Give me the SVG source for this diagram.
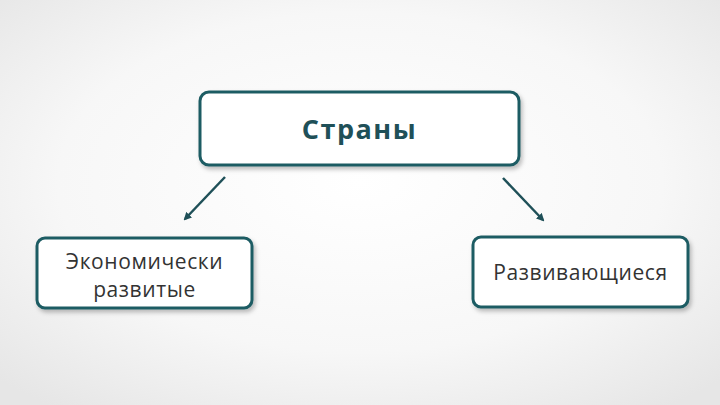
<svg xmlns="http://www.w3.org/2000/svg" width="720" height="405" viewBox="0 0 720 405">
<defs>
<radialGradient id="bg" cx="50%" cy="45%" r="70%"><stop offset="0" stop-color="#ffffff"/><stop offset="0.6" stop-color="#f7f7f7"/><stop offset="1" stop-color="#e6e6e6"/></radialGradient>
<marker id="ah" markerWidth="8" markerHeight="8" refX="6" refY="4" orient="auto" markerUnits="userSpaceOnUse"><path d="M0,0 L8,4 L0,8 Z" fill="#1f5058"/></marker>
<filter id="sh" x="-10%" y="-10%" width="120%" height="130%"><feDropShadow dx="2" dy="3" stdDeviation="2" flood-color="#000" flood-opacity="0.25"/></filter>
</defs>
<style>
.box{fill:#fff;stroke:#1f5c63;stroke-width:3;filter:url(#sh)}
.t{font-family:"Open Sans","Noto Sans",sans-serif;font-size:21px;letter-spacing:0.6px;fill:#333;text-anchor:middle}
.c{stroke:#1f5058;stroke-width:2.5;fill:none;marker-end:url(#ah)}
</style>
<rect width="720" height="405" fill="url(#bg)"/>
<g id="connectors">
<line class="c" x1="225" y1="177" x2="185" y2="219"/>
<line class="c" x1="503" y1="178" x2="543" y2="220"/>
</g>
<g id="n1"><rect class="box" x="200" y="92" width="319" height="73" rx="9"/>
<text x="359.5" y="139" class="t" style="font-size:27px;letter-spacing:1.5px;font-weight:bold;fill:#1f5058">Страны</text></g>
<g id="n2"><rect class="box" x="37" y="238" width="215" height="70" rx="8"/>
<text x="144.5" y="269" class="t">Экономически</text><text x="144.5" y="297" class="t">развитые</text></g>
<g id="n3"><rect class="box" x="473" y="237" width="215" height="70" rx="8"/>
<text x="580.5" y="280" class="t">Развивающиеся</text></g>
</svg>
